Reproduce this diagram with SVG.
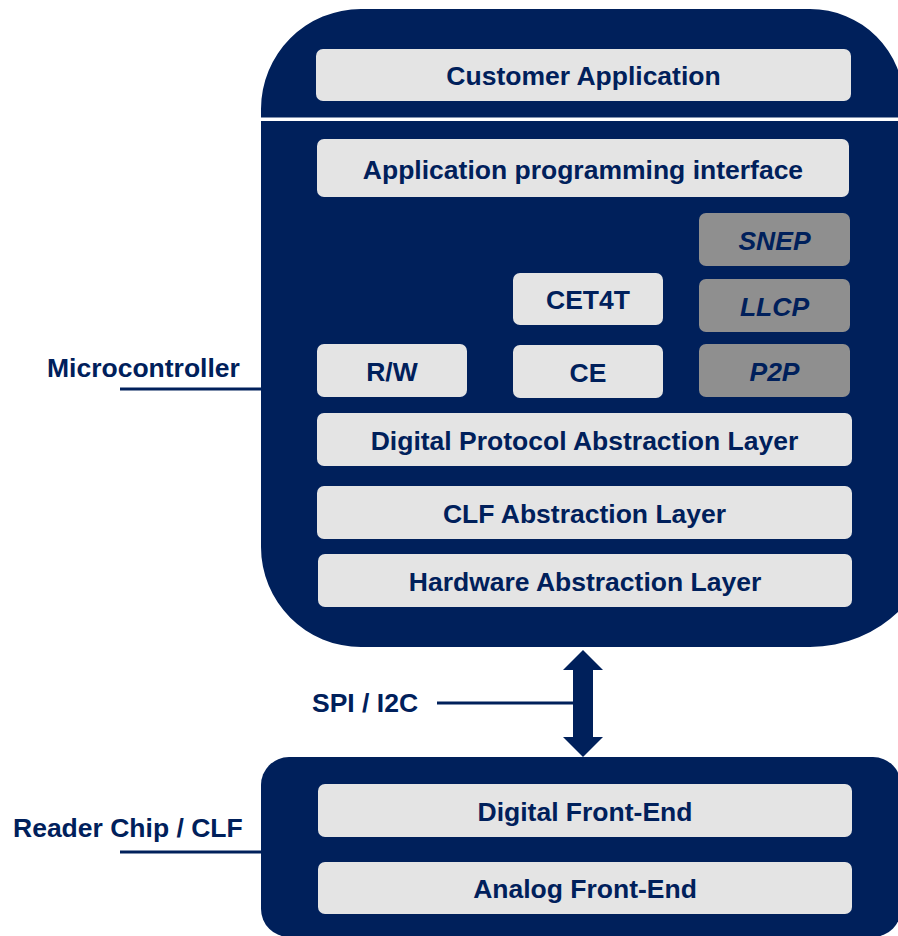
<svg xmlns="http://www.w3.org/2000/svg" width="898" height="936" viewBox="0 0 898 936">
  <style>
    .panel { fill: #00205B; }
    .layer { fill: #E4E4E4; }
    .proto { fill: #8F8F8F; }
    .lbl { font-family: "Liberation Sans", Arial, sans-serif; font-weight: bold; font-size: 26.5px; fill: #00205B; }
    .mid { text-anchor: middle; }
    .it { font-style: italic; }
    .wire { stroke: #00205B; stroke-width: 3; fill: none; }
  </style>

  <!-- Microcontroller stack -->
  <g id="microcontroller">
    <path class="panel" d="M261,109 A100,100 0 0 1 361,9 H810 A94,94 0 0 1 904,103 L938,519 A128,128 0 0 1 810,647 H361 A100,100 0 0 1 261,547 Z"/>
    <rect x="261" y="117.5" width="660" height="3.5" fill="#FFFFFF"/>
  </g>

  <g id="customer-application">
    <rect class="layer" x="316" y="49" width="535" height="52" rx="7"/>
    <text class="lbl mid" x="583.5" y="85">Customer Application</text>
  </g>
  <g id="api">
    <rect class="layer" x="317" y="139" width="532" height="58" rx="7"/>
    <text class="lbl mid" x="583" y="179">Application programming interface</text>
  </g>
  <g id="snep">
    <rect class="proto" x="699" y="213" width="151" height="53" rx="7"/>
    <text class="lbl mid it" x="774.5" y="250">SNEP</text>
  </g>
  <g id="llcp">
    <rect class="proto" x="699" y="279" width="151" height="53" rx="7"/>
    <text class="lbl mid it" x="774.5" y="316">LLCP</text>
  </g>
  <g id="p2p">
    <rect class="proto" x="699" y="344" width="151" height="53" rx="7"/>
    <text class="lbl mid it" x="774.5" y="381">P2P</text>
  </g>
  <g id="cet4t">
    <rect class="layer" x="513" y="273" width="150" height="52" rx="7"/>
    <text class="lbl mid" x="588" y="309">CET4T</text>
  </g>
  <g id="rw">
    <rect class="layer" x="317" y="344" width="150" height="53" rx="7"/>
    <text class="lbl mid" x="392" y="381">R/W</text>
  </g>
  <g id="ce">
    <rect class="layer" x="513" y="345" width="150" height="53" rx="7"/>
    <text class="lbl mid" x="588" y="382">CE</text>
  </g>
  <g id="dpal">
    <rect class="layer" x="317" y="413" width="535" height="53" rx="7"/>
    <text class="lbl mid" x="584.5" y="450">Digital Protocol Abstraction Layer</text>
  </g>
  <g id="clf-al">
    <rect class="layer" x="317" y="486" width="535" height="53" rx="7"/>
    <text class="lbl mid" x="584.5" y="523">CLF Abstraction Layer</text>
  </g>
  <g id="hal">
    <rect class="layer" x="318" y="554" width="534" height="53" rx="7"/>
    <text class="lbl mid" x="585" y="591">Hardware Abstraction Layer</text>
  </g>

  <!-- Reader chip -->
  <g id="reader-chip">
    <rect class="panel" x="261" y="757" width="640" height="180" rx="28"/>
  </g>
  <g id="dfe">
    <rect class="layer" x="318" y="784" width="534" height="53" rx="7"/>
    <text class="lbl mid" x="585" y="821">Digital Front-End</text>
  </g>
  <g id="afe">
    <rect class="layer" x="318" y="862" width="534" height="52" rx="7"/>
    <text class="lbl mid" x="585" y="898">Analog Front-End</text>
  </g>

  <!-- Connectors and side labels -->
  <g id="connectors">
    <path class="panel" d="M583,650 L603,670 H593 V737 H603 L583,757 L563,737 H573 V670 H563 Z"/>
    <line class="wire" x1="437" y1="703" x2="574" y2="703"/>
    <line class="wire" x1="120" y1="389" x2="261" y2="389"/>
    <line class="wire" x1="120" y1="852" x2="261" y2="852"/>
  </g>
  <g id="labels">
    <text class="lbl" x="47" y="377">Microcontroller</text>
    <text class="lbl" x="13" y="837">Reader Chip / CLF</text>
    <text class="lbl" x="312" y="712">SPI / I2C</text>
  </g>
</svg>
